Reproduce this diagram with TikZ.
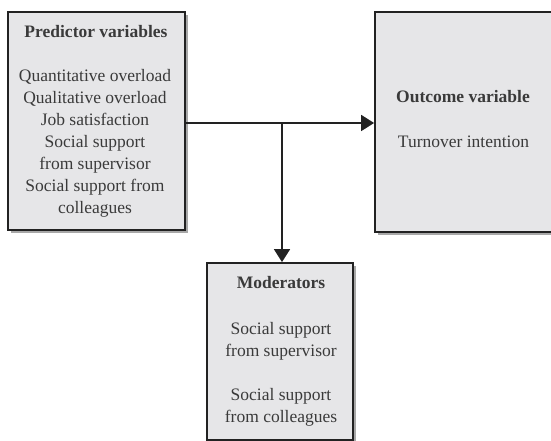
\documentclass[tikz,border=0pt]{standalone}
\usepackage{fontspec}
\setmainfont{Liberation Serif}
\usetikzlibrary{arrows.meta,shadows}
\definecolor{boxfill}{HTML}{E6E6E8}
\definecolor{boxline}{HTML}{222222}
\definecolor{txt}{HTML}{3A3A3A}
\definecolor{shade}{HTML}{A8A8A8}
\begin{document}
\begin{tikzpicture}[x=1pt,y=1pt,
  box/.style={draw=boxline, line width=1.8pt, fill=boxfill, rectangle, inner sep=0pt,
    drop shadow={shadow xshift=3pt, shadow yshift=-3pt, fill=shade, opacity=1}},
  ttl/.style={font=\fontsize{17.5}{22}\selectfont\bfseries, text=txt, anchor=base, inner sep=0pt},
  body/.style={font=\fontsize{17.5}{22}\selectfont, text=txt, align=center, anchor=base, inner sep=0pt},
  conn/.style={line width=1.8pt, draw=boxline, -{Triangle[length=13pt,width=16pt]}}]
\useasboundingbox (0,0) rectangle (551,441);
\clip (0,0) rectangle (551,441);
% boxes
\node[box, minimum width=177pt, minimum height=218pt] (pred) at (96.5,320) {};
\node[box, minimum width=177pt, minimum height=220pt] (out) at (463.5,319) {};
\node[box, minimum width=146pt, minimum height=177pt] (mod) at (280,89.5) {};
% texts
\node[ttl] (predT) at (96,403) {Predictor variables};
\node[body] (predB) at (95,227) {Quantitative overload\\Qualitative overload\\Job satisfaction\\Social support\\from supervisor\\Social support from\\colleagues};
\node[ttl] (outT) at (463,338) {Outcome variable};
\node[body] (outB) at (463.5,293) {Turnover intention};
\node[ttl] (modT) at (281,152) {Moderators};
\node[body] (modB1) at (281,84) {Social support\\from supervisor};
\node[body] (modB2) at (281,18) {Social support\\from colleagues};
% connectors
\coordinate (j) at (282,318);
\draw[conn] (pred.east |- j) -- (out.west |- j);
\draw[conn] (j) -- (j |- mod.north);
\end{tikzpicture}
\end{document}
